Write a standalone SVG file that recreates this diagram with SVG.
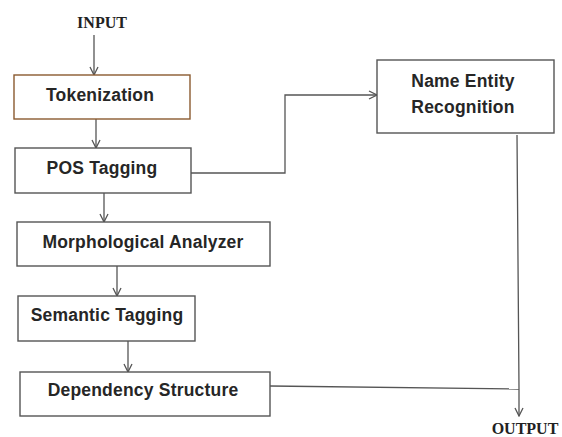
<svg xmlns="http://www.w3.org/2000/svg" width="562" height="437" viewBox="0 0 562 437">
<style>
.box{fill:#fff;stroke:#555;stroke-width:1.4}
.lbl{font-family:"Liberation Sans",Arial,sans-serif;font-weight:bold;font-size:17.5px;letter-spacing:0.2px;fill:#262626;text-anchor:middle}
.io{font-family:"Liberation Serif","Times New Roman",serif;font-weight:bold;font-size:16px;fill:#222;text-anchor:middle}
.ln{fill:none;stroke:#555;stroke-width:1.3}
</style>
<defs>
<marker id="ah" viewBox="0 0 10 10" refX="9" refY="5" markerWidth="10" markerHeight="10" markerUnits="userSpaceOnUse" orient="auto">
<polyline points="1,1 9,5 1,9" fill="none" stroke="#555" stroke-width="1.3"/>
</marker>
</defs>
<rect width="562" height="437" fill="#fff"/>
<text class="io" x="102" y="28">INPUT</text>
<text class="io" x="525" y="434">OUTPUT</text>
<g id="connectors">
<line class="ln" x1="94" y1="35" x2="94" y2="75" marker-end="url(#ah)"/>
<line class="ln" x1="96" y1="119" x2="96" y2="148" marker-end="url(#ah)"/>
<line class="ln" x1="104" y1="193" x2="104" y2="222" marker-end="url(#ah)"/>
<line class="ln" x1="117" y1="266" x2="117" y2="296" marker-end="url(#ah)"/>
<line class="ln" x1="128" y1="341" x2="128" y2="372" marker-end="url(#ah)"/>
<polyline class="ln" points="191,173 285,173 285,95 377,95" marker-end="url(#ah)"/>
<polyline class="ln" points="517,135 519,389 519,416" marker-end="url(#ah)"/>
<line class="ln" x1="270" y1="386" x2="519" y2="389"/>
</g>
<g id="tokenization">
<rect class="box" x="14" y="75" width="176" height="44" style="stroke:#8a5a30"/>
<text class="lbl" x="100" y="101">Tokenization</text>
</g>
<g id="pos">
<rect class="box" x="15" y="148" width="176" height="45"/>
<text class="lbl" x="102" y="174">POS Tagging</text>
</g>
<g id="morph">
<rect class="box" x="17" y="222" width="253" height="44"/>
<text class="lbl" x="143" y="248">Morphological Analyzer</text>
</g>
<g id="semantic">
<rect class="box" x="18" y="296" width="177" height="45"/>
<text class="lbl" x="107" y="321">Semantic Tagging</text>
</g>
<g id="dependency">
<rect class="box" x="20" y="372" width="250" height="44"/>
<text class="lbl" x="143" y="396">Dependency Structure</text>
</g>
<g id="ner">
<rect class="box" x="377" y="60" width="177" height="73"/>
<text class="lbl" x="463" y="87">Name Entity</text>
<text class="lbl" x="463" y="113">Recognition</text>
</g>
</svg>
